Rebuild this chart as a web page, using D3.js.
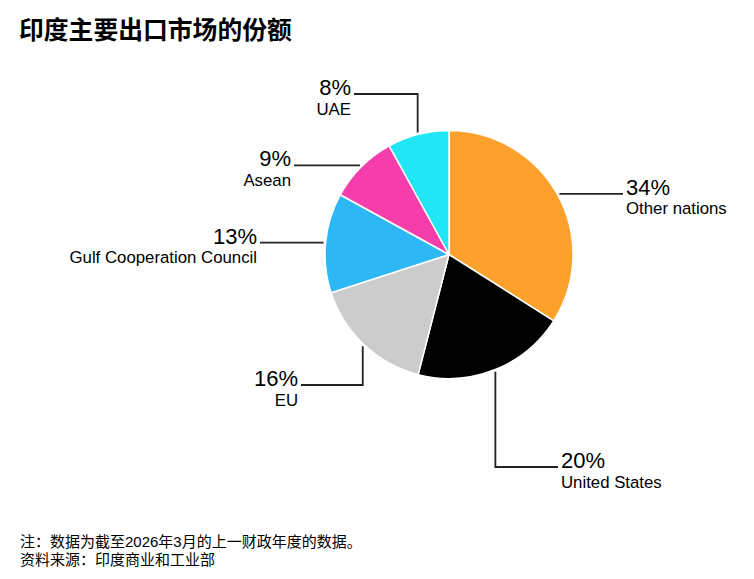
<!DOCTYPE html>
<html>
<head>
<meta charset="utf-8">
<script src="https://cdn.jsdelivr.net/npm/d3@7"></script>
<style>
  body { margin: 0; background: #fff; }
  svg { display: block; }
</style>
</head>
<body>
<div id="chart"></div>
<script>
// data
const markets = ["Other nations", "United States", "EU", "Gulf Cooperation Council", "Asean", "UAE"];
const shares = [34, 20, 16, 13, 9, 8];
const colors = ["#fda02c", "#000000", "#cccccc", "#2db7f5", "#f53eab", "#20e6f5"];

const title = "印度主要出口市场的份额";
const notes = [
  "注：数据为截至2026年3月的上一财政年度的数据。",
  "资料来源：印度商业和工业部"
];

// label placement: leader goes (v)ertical then horizontal, or just (h)orizontal
const labelLayout = {
  "Other nations":            { kind: "h", endX: 623, anchor: "start" },
  "United States":            { kind: "v", lineY: 467, endX: 558, anchor: "start" },
  "EU":                       { kind: "v", lineY: 385, endX: 301, anchor: "end" },
  "Gulf Cooperation Council": { kind: "h", endX: 260, anchor: "end" },
  "Asean":                    { kind: "h", endX: 294, anchor: "end" },
  "UAE":                      { kind: "v", lineY: 94, endX: 354, anchor: "end" },
};

const width = 754, height = 579;
const cx = 449, cy = 254.5, radius = 124;
const latin = "'Liberation Sans', Arial, 'Noto Sans CJK SC', sans-serif";

const svg = d3.select("#chart")
  .append("svg")
  .attr("width", width)
  .attr("height", height)
  .style("background-color", "#fff");

// title
svg.append("text")
  .attr("x", 19)
  .attr("y", 39)
  .attr("font-family", "'Noto Sans CJK SC', sans-serif")
  .attr("font-weight", 700)
  .attr("font-size", "24.8px")
  .attr("fill", "#000")
  .text(title);

const data = markets.map((m, i) => ({ name: m, value: shares[i], color: colors[i] }));

const pie = d3.pie()
  .value(d => d.value)
  .sort(null);

const arc = d3.arc()
  .innerRadius(0)
  .outerRadius(radius);

const arcs = pie(data);

const g = svg.append("g")
  .attr("transform", `translate(${cx},${cy})`);

g.selectAll("path")
  .data(arcs)
  .enter().append("path")
  .attr("d", arc)
  .attr("fill", d => d.data.color)
  .attr("stroke", "#fff")
  .attr("stroke-width", 1.5)
  .attr("stroke-linejoin", "round");

// leader lines + labels
const labels = svg.append("g");

arcs.forEach(a => {
  const lay = labelLayout[a.data.name];
  const mid = (a.startAngle + a.endAngle) / 2;
  const r0 = radius + 2;
  const sx = cx + r0 * Math.sin(mid);
  const sy = cy - r0 * Math.cos(mid);

  let pts, textY;
  if (lay.kind === "v") {
    pts = [[sx, sy], [sx, lay.lineY], [lay.endX, lay.lineY]];
    textY = lay.lineY + 1;
  } else {
    pts = [[sx, sy], [lay.endX, sy]];
    textY = sy + 1;
  }

  labels.append("path")
    .attr("d", d3.line()(pts))
    .attr("fill", "none")
    .attr("stroke", "#222")
    .attr("stroke-width", 1.8);

  const tx = lay.anchor === "end" ? lay.endX - 3 : lay.endX + 3;

  labels.append("text")
    .attr("x", tx)
    .attr("y", textY)
    .attr("text-anchor", lay.anchor)
    .attr("font-family", latin)
    .attr("font-size", "22px")
    .attr("fill", "#000")
    .text(a.data.value + "%");

  labels.append("text")
    .attr("x", tx)
    .attr("y", textY + 19.5)
    .attr("text-anchor", lay.anchor)
    .attr("font-family", latin)
    .attr("font-size", "16.8px")
    .attr("fill", "#000")
    .text(a.data.name);
});

// footnotes
svg.append("g")
  .selectAll("text")
  .data(notes)
  .enter().append("text")
  .attr("x", 20)
  .attr("y", (d, i) => 547 + i * 18)
  .attr("font-family", latin)
  .attr("font-size", "15px")
  .attr("fill", "#000")
  .text(d => d);
</script>
</body>
</html>
